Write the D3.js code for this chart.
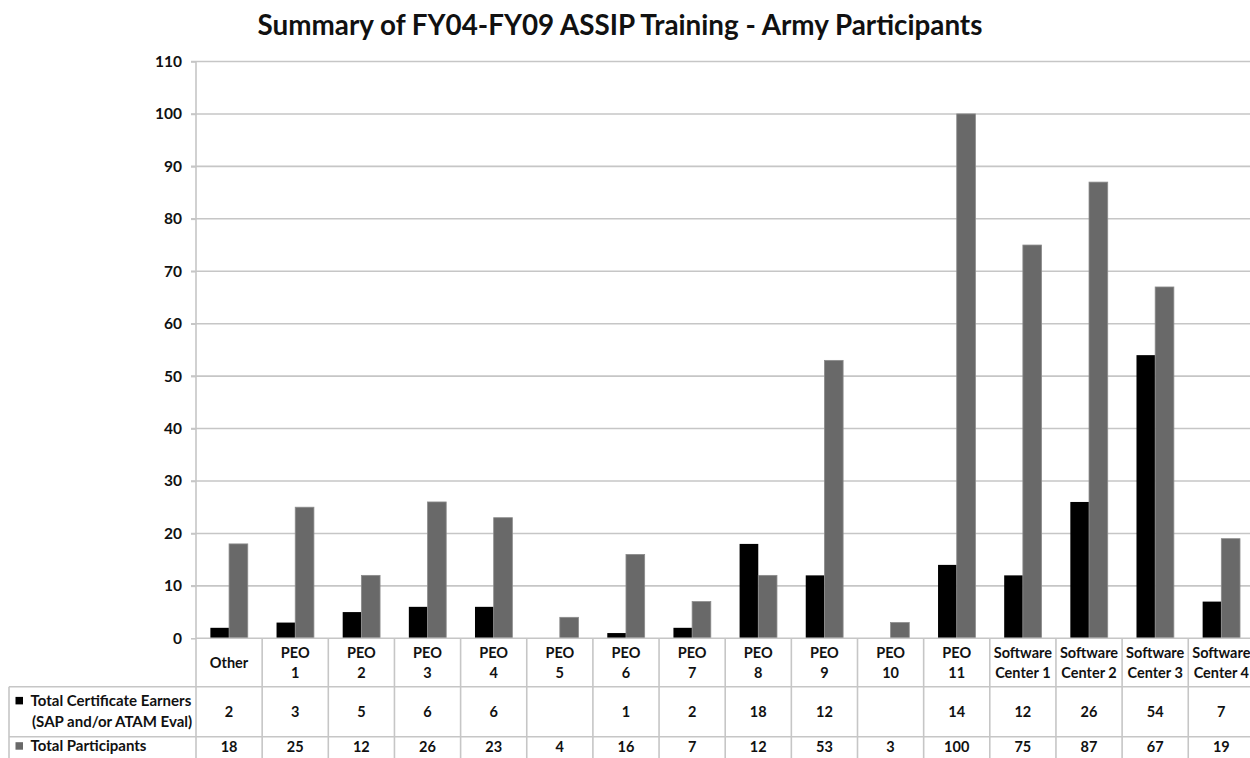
<!DOCTYPE html>
<html>
<head>
<meta charset="utf-8">
<script src="https://cdn.jsdelivr.net/npm/d3@7"></script>
<style>
  html, body { margin: 0; padding: 0; background: #fff; }
  svg { display: block; font-family: Lato, "Open Sans", sans-serif; }
</style>
</head>
<body>
<svg id="chart" width="1250" height="758"></svg>
<script>
const title = "Summary of FY04-FY09 ASSIP Training - Army Participants";
const categories = ["Other", "PEO 1", "PEO 2", "PEO 3", "PEO 4", "PEO 5", "PEO 6", "PEO 7", "PEO 8", "PEO 9", "PEO 10", "PEO 11", "Software Center 1", "Software Center 2", "Software Center 3", "Software Center 4"];
const certificateEarners = [2, 3, 5, 6, 6, null, 1, 2, 18, 12, null, 14, 12, 26, 54, 7];
const totalParticipants = [18, 25, 12, 26, 23, 4, 16, 7, 12, 53, 3, 100, 75, 87, 67, 19];
const seriesNames = [["Total Certificate Earners", "(SAP and/or ATAM Eval)"], ["Total Participants"]];
const yTicks = [0, 10, 20, 30, 40, 50, 60, 70, 80, 90, 100, 110];

const svg = d3.select("#chart");
svg.append("rect").attr("width", 1250).attr("height", 758).attr("fill", "#fff");

const plotLeft = 196, step = 66.15, y0 = 638.3, yTop = 61.5;
const tableLeft = 9, row1Top = 686.7, row2Top = 736.7, bottom = 758;
const colors = ["#000000", "#696969"];
const gridColor = "#c6c6c6";

const x = d3.scaleBand().domain(categories).range([plotLeft, plotLeft + step * categories.length]).paddingInner(0).paddingOuter(0);
const xs = d3.scaleBand().domain([0, 1]).range([0, x.bandwidth()]).paddingInner(0).paddingOuter(0.77);
const y = d3.scaleLinear().domain([0, 110]).range([y0, yTop]);

// gridlines
svg.append("g").selectAll("line").data(yTicks.filter(d => d > 0)).join("line")
  .attr("x1", plotLeft - 5).attr("x2", 1250)
  .attr("y1", d => y(d)).attr("y2", d => y(d))
  .attr("stroke", gridColor).attr("stroke-width", 1.6);

// y axis
const yAxis = svg.append("g").attr("transform", `translate(${plotLeft},0)`)
  .call(d3.axisLeft(y).tickValues(yTicks).tickSize(5).tickSizeOuter(0).tickPadding(9));
yAxis.select(".domain").remove();
yAxis.selectAll(".tick line").attr("stroke", gridColor).attr("stroke-width", 1.6);
yAxis.selectAll(".tick text").attr("font-size", 15.5).attr("font-weight", 700).attr("fill", "#111")
  .attr("font-family", "Lato, sans-serif");

// bars
const seriesData = [certificateEarners, totalParticipants];
seriesData.forEach((vals, si) => {
  svg.append("g").selectAll("rect").data(categories.map((c, i) => ({c, v: vals[i]})).filter(d => d.v != null)).join("rect")
    .attr("x", d => x(d.c) + xs(si))
    .attr("width", xs.bandwidth())
    .attr("y", d => y(d.v))
    .attr("height", d => y(0) - y(d.v))
    .attr("fill", colors[si])
    .attr("stroke", si === 1 ? "#8c8c8c" : "none")
    .attr("stroke-width", 0.8);
});

// table lines
const tg = svg.append("g").attr("stroke", gridColor).attr("stroke-width", 1.6);
// vertical axis line from top to bottom
tg.append("line").attr("x1", plotLeft).attr("x2", plotLeft).attr("y1", yTop).attr("y2", bottom);
// category axis line
tg.append("line").attr("x1", plotLeft).attr("x2", 1250).attr("y1", y0).attr("y2", y0);
// category dividers
tg.selectAll(".div").data(categories.slice(1)).join("line")
  .attr("x1", d => x(d)).attr("x2", d => x(d)).attr("y1", y0).attr("y2", bottom);
// row lines
[row1Top, row2Top].forEach(ry => tg.append("line").attr("x1", tableLeft).attr("x2", 1250).attr("y1", ry).attr("y2", ry));
tg.append("line").attr("x1", tableLeft).attr("x2", tableLeft).attr("y1", row1Top).attr("y2", bottom);

// category labels
const catG = svg.append("g").attr("font-size", 14.5).attr("font-weight", 700).attr("fill", "#111").attr("text-anchor", "middle");
categories.forEach(c => {
  const idx = c.indexOf(" ");
  let lines;
  if (idx < 0) lines = [c];
  else if (c.startsWith("Software")) lines = ["Software", c.slice(idx + 1)];
  else lines = [c.slice(0, idx), c.slice(idx + 1)];
  const cx = x(c) + x.bandwidth() / 2;
  const mid = 663;
  lines.forEach((ln, li) => {
    catG.append("text").attr("x", cx)
      .attr("y", mid + (li - (lines.length - 1) / 2) * 19.5)
      .attr("dy", "0.35em").text(ln);
  });
});

// table values
const valG = svg.append("g").attr("font-size", 14.5).attr("font-weight", 700).attr("fill", "#111").attr("text-anchor", "middle");
const rowMid = [711.7, 746.5];
seriesData.forEach((vals, si) => {
  valG.selectAll(".r" + si).data(categories.map((c, i) => ({c, v: vals[i]})).filter(d => d.v != null)).join("text")
    .attr("x", d => x(d.c) + x.bandwidth() / 2)
    .attr("y", rowMid[si]).attr("dy", "0.35em").text(d => d.v);
});

// legend cells
const legG = svg.append("g").attr("font-weight", 700).attr("fill", "#111");
const legLines = [[700.7, 721.7], [746]];
seriesNames.forEach((lines, si) => {
  legG.append("rect").attr("x", 15.5).attr("y", legLines[si][0] - 3.8).attr("width", 7.5).attr("height", 7.5).attr("fill", colors[si]);
  lines.forEach((ln, li) => {
    legG.append("text").attr("x", li === 0 ? 30.5 : 32).attr("y", legLines[si][li]).attr("dy", "0.35em")
      .attr("font-size", 13).attr("font-family", "Lato, sans-serif").text(ln);
  });
});
// fit first legend line to width
(function fitLegend() {
  const t = legG.selectAll("text").filter(function() { return this.textContent === seriesNames[0][0]; }).node();
  const w = t.getComputedTextLength();
  const s = 13 * 161 / w;
  legG.selectAll("text").attr("font-size", s);
})();

// title
const tt = svg.append("text").attr("x", 620).attr("y", 35).attr("text-anchor", "middle")
  .attr("font-size", 22).attr("font-weight", 700).attr("fill", "#111").text(title);
const tw = tt.node().getComputedTextLength();
tt.attr("font-size", 22 * 725 / tw);
</script>
</body>
</html>
